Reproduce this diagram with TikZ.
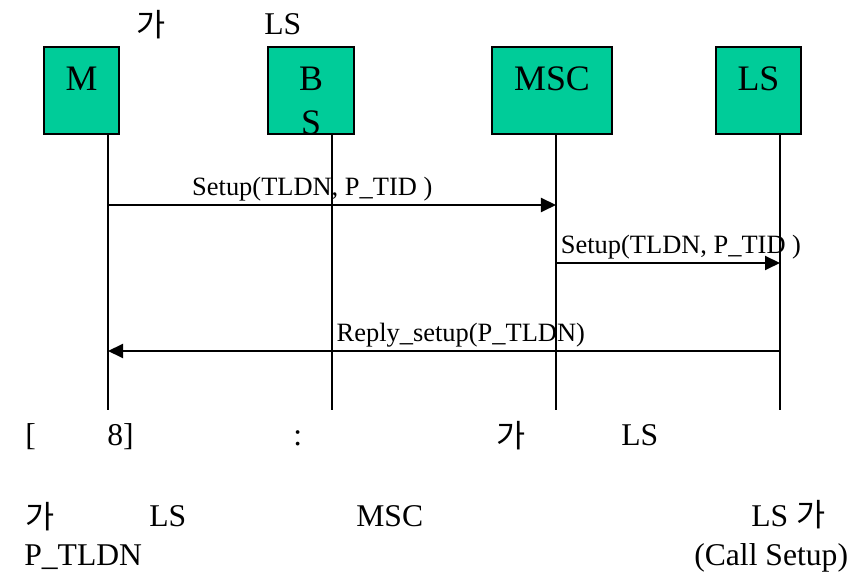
\documentclass[tikz,border=0pt]{standalone}
\usepackage{fontspec}
\setmainfont{Liberation Serif}
\newfontfamily\krfont{Noto Sans CJK KR}
\usepackage{xcolor}
\usepackage{tikz}
\usetikzlibrary{arrows.meta}
\definecolor{boxgreen}{HTML}{00CC99}

\begin{document}
\begin{tikzpicture}[x=0.025cm, y=-0.025cm,
  entity/.style={draw=black, line width=1.2pt, fill=boxgreen, minimum height=2.175cm, inner sep=0pt},
  entlabel/.style={anchor=base, font=\fontsize{25.5}{31.3}\selectfont, align=center, inner sep=0pt},
  lifeline/.style={line width=1pt},
  msg/.style={line width=1.4pt, -{Triangle[length=0.375cm, width=0.35cm]}},
  msglabel/.style={anchor=base, font=\fontsize{18.8}{22}\selectfont, inner sep=0pt, yshift=0.225cm},
  note/.style={anchor=base west, font=\fontsize{22.5}{26}\selectfont, inner sep=0pt},
  krnote/.style={note, font=\fontsize{22.5}{26}\krfont, yshift=-0.05cm}]

\useasboundingbox (0,0) rectangle (851,576);

% entities
\node[entity, minimum width=1.875cm] (m) at (81.5,90.5) {};
\node[entity, minimum width=2.15cm] (bs) at (311,90.5) {};
\node[entity, minimum width=3cm] (msc) at (552,90.5) {};
\node[entity, minimum width=2.125cm] (ls) at (758.5,90.5) {};

\node[entlabel] (mname) at (81.5,91) {M};
\node[entlabel] (bsname) at (311,135) {B\\S};
\node[entlabel] (mscname) at (552,91) {MSC};
\node[entlabel] (lsname) at (758.5,91) {LS};

% lifelines
\coordinate (mend) at (108,410);
\coordinate (bsend) at (332,410);
\coordinate (mscend) at (556,410);
\coordinate (lsend) at (780,410);

\draw[lifeline] (m.south -| mend) -- (mend);
\draw[lifeline] (bs.south -| bsend) -- (bsend);
\draw[lifeline] (msc.south -| mscend) -- (mscend);
\draw[lifeline] (ls.south -| lsend) -- (lsend);

% messages
\draw[msg] (mend |- 0,205) -- (mscend |- 0,205)
  node[msglabel, pos=0.456] (setup1) {Setup(TLDN, P\_TID )};
\draw[msg] (mscend |- 0,263) -- (lsend |- 0,263)
  node[msglabel, pos=0.558] (setup2) {Setup(TLDN, P\_TID )};
\draw[msg] (lsend |- 0,351) -- (mend |- 0,351)
  node[msglabel, pos=0.475] (reply) {Reply\_setup(P\_TLDN)};

% notes
\node[krnote] (top1) at (136,35) {가};
\node[note] (top2) at (264,35) {LS};

\node[note] (cap1) at (25,446) {[};
\node[note] (cap2) at (107,446) {8]};
\node[note] (cap3) at (293,446) {:};
\node[krnote] (cap4) at (496,446) {가};
\node[note] (cap5) at (621,446) {LS};

\node[krnote] (txt1) at (25,527) {가};
\node[note] (txt2) at (149,527) {LS};
\node[note] (txt3) at (356,527) {MSC};
\node[note] (txt4) at (751,527) {LS {\krfont 가}};

\node[note] (txt5) at (24,566) {P\_TLDN};
\node[note] (txt6) at (694,566) {(Call Setup)};
\end{tikzpicture}
\end{document}
